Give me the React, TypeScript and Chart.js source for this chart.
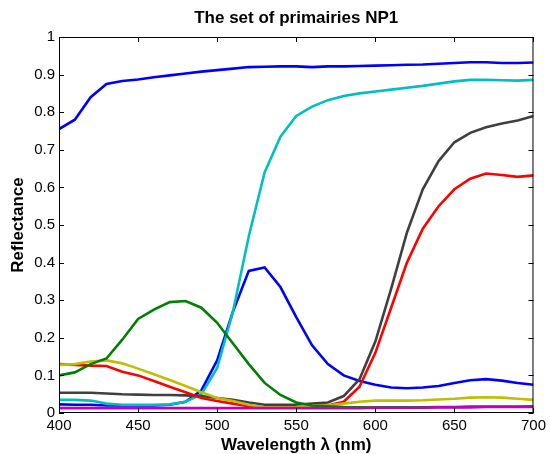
import React, { useEffect, useRef } from "react";
import { Chart, registerables } from "chart.js";

Chart.register(...registerables);

const wavelengths = [400,410,420,430,440,450,460,470,480,490,500,510,520,530,540,550,560,570,580,590,600,610,620,630,640,650,660,670,680,690,700];

const blueHigh = [0.755,0.78,0.84,0.875,0.883,0.887,0.893,0.898,0.903,0.908,0.912,0.916,0.92,0.921,0.922,0.922,0.92,0.922,0.922,0.923,0.924,0.925,0.926,0.927,0.929,0.931,0.933,0.933,0.931,0.931,0.932];
const cyan = [0.035,0.035,0.033,0.025,0.022,0.022,0.022,0.023,0.03,0.05,0.12,0.27,0.47,0.64,0.735,0.79,0.815,0.832,0.843,0.85,0.855,0.86,0.865,0.87,0.876,0.882,0.886,0.886,0.885,0.884,0.886];
const gray = [0.054,0.054,0.054,0.052,0.05,0.049,0.048,0.048,0.047,0.045,0.04,0.035,0.028,0.022,0.022,0.022,0.025,0.028,0.045,0.09,0.19,0.33,0.48,0.595,0.67,0.72,0.745,0.76,0.77,0.778,0.79];
const red = [0.13,0.128,0.126,0.125,0.11,0.1,0.085,0.07,0.055,0.04,0.032,0.025,0.018,0.015,0.015,0.015,0.018,0.02,0.03,0.07,0.16,0.28,0.4,0.49,0.55,0.595,0.623,0.637,0.633,0.628,0.632];
const green = [0.1,0.108,0.13,0.145,0.195,0.25,0.275,0.295,0.298,0.28,0.24,0.185,0.13,0.08,0.048,0.028,0.02,0.018,0.016,0.015,0.015,0.015,0.015,0.015,0.016,0.016,0.017,0.017,0.017,0.017,0.018];
const yellow = [0.128,0.13,0.137,0.14,0.132,0.118,0.103,0.088,0.072,0.055,0.04,0.032,0.022,0.015,0.015,0.016,0.02,0.02,0.025,0.03,0.033,0.033,0.033,0.034,0.036,0.038,0.041,0.042,0.041,0.038,0.035];
const blueMid = [0.023,0.022,0.022,0.02,0.02,0.02,0.02,0.022,0.03,0.06,0.14,0.27,0.378,0.387,0.335,0.255,0.18,0.13,0.1,0.085,0.075,0.068,0.066,0.068,0.072,0.08,0.087,0.09,0.086,0.08,0.075];
const magenta = [0.013,0.013,0.013,0.013,0.013,0.013,0.013,0.013,0.013,0.013,0.013,0.013,0.013,0.013,0.013,0.013,0.013,0.013,0.013,0.013,0.014,0.014,0.014,0.014,0.015,0.015,0.015,0.016,0.016,0.016,0.016];

const xTicks = [400, 450, 500, 550, 600, 650, 700];
const yTicks = [0, 0.1, 0.2, 0.3, 0.4, 0.5, 0.6, 0.7, 0.8, 0.9, 1];

const TITLE = "The set of primairies NP1";
const FONT = "'Liberation Sans', Arial, Helvetica, sans-serif";

const boxTicks = {
  id: "boxTicks",
  afterDatasetsDraw(chart: any) {
    const { ctx, chartArea: a, scales } = chart;
    ctx.save();
    ctx.strokeStyle = "#000";
    ctx.lineWidth = 1;
    ctx.beginPath();
    ctx.rect(a.left + 0.5, a.top + 0.5, a.right - a.left - 1, a.bottom - a.top - 1);
    ctx.stroke();
    const L = 5;
    ctx.beginPath();
    for (const v of xTicks) {
      const x = Math.round(scales.x.getPixelForValue(v)) + 0.5;
      ctx.moveTo(x, a.bottom);
      ctx.lineTo(x, a.bottom - L);
      ctx.moveTo(x, a.top);
      ctx.lineTo(x, a.top + L);
    }
    for (const v of yTicks) {
      const y = Math.round(scales.y.getPixelForValue(v)) + 0.5;
      ctx.moveTo(a.left, y);
      ctx.lineTo(a.left + L, y);
      ctx.moveTo(a.right, y);
      ctx.lineTo(a.right - L, y);
    }
    ctx.stroke();
    ctx.fillStyle = "#000";
    ctx.font = `bold 17px ${FONT}`;
    ctx.textAlign = "center";
    ctx.textBaseline = "middle";
    ctx.fillText(TITLE, (a.left + a.right) / 2, 18.5);
    ctx.restore();
  },
};

export default function App() {
  const ref = useRef<HTMLCanvasElement>(null);
  useEffect(() => {
    if (!ref.current) return;
    const mk = (data: number[], color: string) => ({
      data: wavelengths.map((w, i) => ({ x: w, y: data[i] })),
      borderColor: color,
      borderWidth: 2.6,
      pointRadius: 0,
      fill: false,
      tension: 0,
    });
    const chart = new Chart(ref.current, {
      type: "line",
      data: {
        datasets: [
          mk(magenta, "#bf00bf"),
          mk(green, "#008000"),
          mk(yellow, "#bfbf00"),
          mk(red, "#ff0000"),
          mk(gray, "#404040"),
          mk(cyan, "#00bfbf"),
          mk(blueMid, "#0000ff"),
          mk(blueHigh, "#0000ff"),
        ],
      },
      options: {
        animation: false,
        responsive: false,
        maintainAspectRatio: false,
        layout: { padding: { left: 0, right: 13, top: 37, bottom: 0 } },
        plugins: {
          legend: { display: false },
          tooltip: { enabled: false },
          title: { display: false },
        },
        scales: {
          x: {
            type: "linear",
            min: 400,
            max: 700,
            afterBuildTicks: (s: any) => { s.ticks = xTicks.map((v) => ({ value: v })); },
            afterFit: (s: any) => { s.height = 41; },
            grid: { display: false, drawTicks: false },
            border: { display: false },
            ticks: { color: "#000", padding: 4, font: { family: FONT, size: 15 }, maxRotation: 0, autoSkip: false },
            title: {
              display: true,
              text: "Wavelength λ (nm)",
              color: "#000",
              font: { family: FONT, size: 17, weight: "bold" },
              padding: { top: 0, bottom: -1.5 },
            },
          },
          y: {
            type: "linear",
            min: 0,
            max: 1,
            afterBuildTicks: (s: any) => { s.ticks = yTicks.map((v) => ({ value: v })); },
            afterFit: (s: any) => { s.width = 59; },
            grid: { display: false, drawTicks: false },
            border: { display: false },
            ticks: { color: "#000", padding: 4, font: { family: FONT, size: 15 }, autoSkip: false, callback: (v: any) => String(v) },
            title: {
              display: true,
              text: "Reflectance",
              color: "#000",
              font: { family: FONT, size: 17, weight: "bold" },
              padding: { top: 8, bottom: 0 },
            },
          },
        },
      },
      plugins: [boxTicks],
    });
    return () => chart.destroy();
  }, []);
  return (
    <div style={{ position: "absolute", left: 0, top: 0, width: 550, height: 454, background: "#fff" }}>
      <canvas ref={ref} width={550} height={454} style={{ width: 550, height: 454 }} />
    </div>
  );
}
